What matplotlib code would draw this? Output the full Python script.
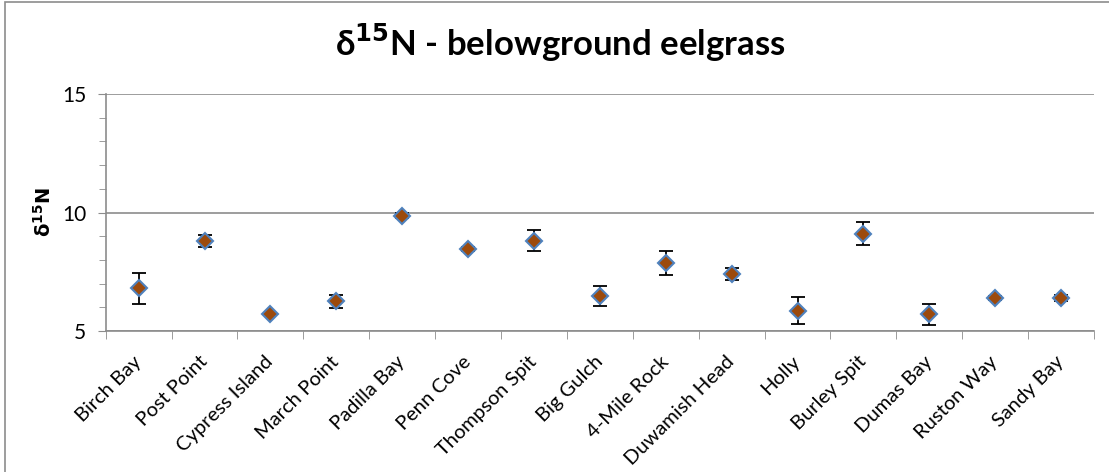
import numpy as np
import matplotlib.pyplot as plt
from matplotlib.patches import Rectangle
from matplotlib.ticker import MultipleLocator, FixedLocator

plt.rcParams['font.family'] = ['Lato', 'DejaVu Sans']

sites = ["Birch Bay", "Post Point", "Cypress Island", "March Point", "Padilla Bay",
         "Penn Cove", "Thompson Spit", "Big Gulch", "4-Mile Rock", "Duwamish Head",
         "Holly", "Burley Spit", "Dumas Bay", "Ruston Way", "Sandy Bay"]
d15n = [6.81, 8.80, 5.72, 6.25, 9.86, 8.46, 8.81, 6.48, 7.87, 7.40,
        5.86, 9.10, 5.71, 6.39, 6.39]
d15n_err = [0.65, 0.27, 0.04, 0.27, 0.10, 0.10, 0.45, 0.43, 0.52, 0.26,
            0.58, 0.49, 0.44, 0.10, 0.13]

fig = plt.figure(figsize=(11.09, 4.72), dpi=100)
ax = fig.add_axes([0.0953, 0.2987, 0.8912, 0.5021])

x = np.arange(len(sites))
ax.errorbar(x, d15n, yerr=d15n_err, fmt='none', ecolor='black',
            elinewidth=1.3, capsize=5, capthick=1.3, zorder=3)
ax.plot(x, d15n, linestyle='none', marker='D', markersize=8.5,
        markerfacecolor='#9C4A0C', markeredgecolor='#4F81BD',
        markeredgewidth=1.5, zorder=4)

ax.set_xlim(-0.5, len(sites) - 0.5)
ax.set_ylim(5, 15)
ax.yaxis.set_major_locator(MultipleLocator(5))
ax.yaxis.set_minor_locator(MultipleLocator(1))
ax.grid(axis='y', which='major', color='#8c8c8c', linewidth=1.2)
ax.set_axisbelow(True)

ax.xaxis.set_major_locator(FixedLocator(x))
ax.xaxis.set_minor_locator(FixedLocator(np.arange(len(sites) + 1) - 0.5))
ax.set_xticklabels(sites, rotation=45, ha='right', va='center',
                   rotation_mode='anchor', fontsize=14.5)
ax.tick_params(axis='x', which='major', length=0, pad=20)
ax.tick_params(axis='x', which='minor', length=6, color='#8c8c8c', direction='out')
ax.tick_params(axis='y', which='major', color='#8c8c8c', labelsize=15,
               length=6, direction='out', pad=8)
ax.tick_params(axis='y', which='minor', color='#8c8c8c', length=5, direction='out')

for side in ['top', 'right']:
    ax.spines[side].set_visible(False)
for side in ['left', 'bottom']:
    ax.spines[side].set_color('#8c8c8c')
    ax.spines[side].set_linewidth(1.2)

ax.set_ylabel(r'$\mathbf{\delta^{15}N}$', fontsize=14)
ax.yaxis.set_label_coords(-0.052, 0.5)
fig.text(0.505, 0.91, r'δ$^{\mathbf{15}}$N - belowground eelgrass',
         ha='center', va='center', fontsize=25, fontweight='bold')

fig.patches.append(Rectangle((5 / 1109, -0.1), 1.2, 1.1 - 2 / 472,
                             transform=fig.transFigure, fill=False,
                             edgecolor='#8c8c8c', linewidth=1.2))

plt.savefig("out.png", dpi=100)
